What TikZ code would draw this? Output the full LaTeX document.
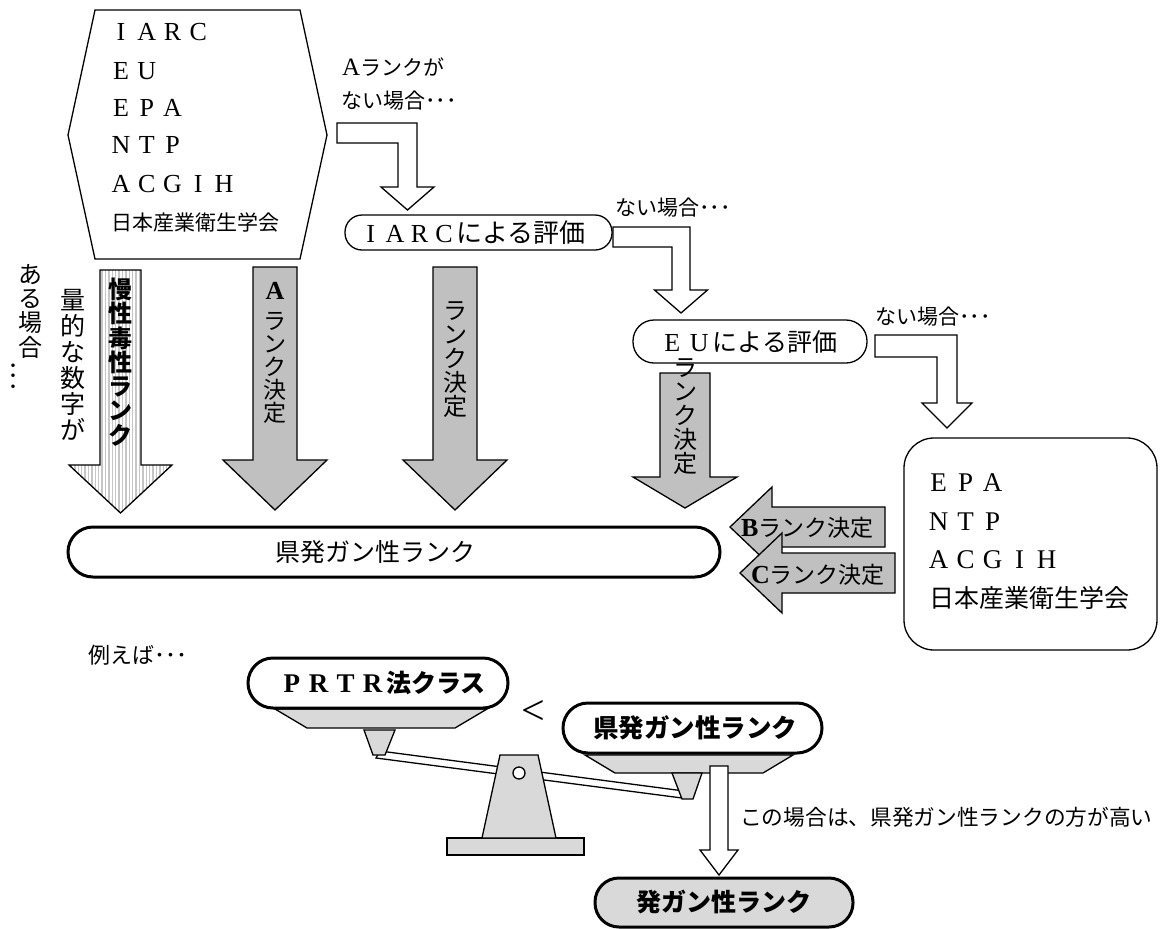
\documentclass[tikz,border=0pt]{standalone}
\usepackage{fontspec}
\setmainfont{Noto Sans CJK JP}
\newfontfamily\lat{Liberation Serif}
\usetikzlibrary{patterns.meta}
\definecolor{silver}{HTML}{C0C0C0}

% font size helper
\newcommand\fsz[2]{\fontsize{#1}{#2}\selectfont}
% full-width Latin letters: each letter centred in a fixed cell
\makeatletter
\newcommand\fwl[3]{{\lat\fsz{#2}{#2}\def\fwl@w{#1}\fwl@#3\@nil}}
\def\fwl@#1{\ifx#1\@nil\else\makebox[\fwl@w]{#1}\expandafter\fwl@\fi}
\makeatother

% block arrows: style, centre, start, head base, tip, shaft half width, head half width
\newcommand\blockdown[7][]{%
  \draw[#1] ({#2-#6},#3) -- ({#2+#6},#3) -- ({#2+#6},#4) -- ({#2+#7},#4) -- (#2,#5)
    -- ({#2-#7},#4) -- ({#2-#6},#4) -- cycle;}
\newcommand\blockleft[7][]{%
  \draw[#1] (#3,{#2-#6}) -- (#3,{#2+#6}) -- (#4,{#2+#6}) -- (#4,{#2+#7}) -- (#5,#2)
    -- (#4,{#2-#7}) -- (#4,{#2-#6}) -- cycle;}
% bent arrow: left end, bar top, bar bottom, shaft centre, shaft half, shaft end, head half, tip
\newcommand\bentarrow[8]{%
  \draw[whitearrow] (#1,#2) -- ({#4+#5},#2) -- ({#4+#5},#6) -- ({#4+#7},#6) -- (#4,#8)
    -- ({#4-#7},#6) -- ({#4-#5},#6) -- ({#4-#5},#3) -- (#1,#3) -- cycle;}

\tikzset{
  silverarrow/.style={draw=black, line width=1.3pt, fill=silver},
  whitearrow/.style={draw=black, line width=1.3pt, fill=white},
  stripearrow/.style={draw=black, line width=1.3pt, preaction={fill=white},
    pattern={Lines[angle=90,distance=3.4pt,line width=1.4pt]}, pattern color=gray!45},
  thinbox/.style={draw, line width=1.3pt, fill=white, inner sep=0pt},
  thickbox/.style={draw, line width=3pt, fill=white, inner sep=0pt},
  txt/.style={inner sep=0pt, anchor=west},
  ctxt/.style={inner sep=0pt},
  vtxt/.style={inner sep=0pt, align=center},
  tray/.style={draw, line width=1.3pt, fill=gray!30},
}

\begin{document}
\begin{tikzpicture}[x=1pt, y=-1pt, line join=miter]
\useasboundingbox (0,0) rectangle (1162,929);

% ---------- source list (hexagon) ----------
\draw[line width=1.3pt, fill=white] (95,10) -- (300,10) -- (327,135) -- (300,259)
  -- (95,259) -- (68,135) -- cycle;
\node[txt, font=\fsz{21}{21}] (h1) at (108,32)  {\fwl{25.75pt}{26}{IARC}};
\node[txt, font=\fsz{21}{21}] (h2) at (108,71)  {\fwl{25.75pt}{26}{EU}};
\node[txt, font=\fsz{21}{21}] (h3) at (108,108) {\fwl{25.75pt}{26}{EPA}};
\node[txt, font=\fsz{21}{21}] (h4) at (108,145) {\fwl{25.75pt}{26}{NTP}};
\node[txt, font=\fsz{21}{21}] (h5) at (108,184) {\fwl{25.75pt}{26}{ACGIH}};
\node[txt, font=\fsz{21}{21}] (h6) at (111,222) {日本産業衛生学会};

% ---------- step 1: no A rank ----------
\node[txt, font=\fsz{21}{21}] (q1a) at (342,67) {{\lat\fsz{25}{25}A}ランクが};
\node[txt, font=\fsz{21}{21}] (q1b) at (341,101) {ない場合･･･};
\bentarrow{337}{123}{143}{407.5}{9.5}{187}{26.5}{210}

\node[thinbox, rounded corners=17pt, minimum width=267pt, minimum height=35pt]
  (iarc) at (478.5,232.5) {};
\node[ctxt, font=\fsz{26}{26}] (iarct) at (472,233) {\fwl{24.5pt}{26}{IARC}による評価};

% ---------- step 2 ----------
\node[txt, font=\fsz{21}{21}] (q2) at (615,208) {ない場合･･･};
\bentarrow{613}{227}{247}{681}{9}{290}{26.5}{313}

\node[thinbox, rounded corners=21pt, minimum width=234pt, minimum height=43pt]
  (eu) at (750,341.5) {};
\node[ctxt, font=\fsz{25}{25}] (eut) at (748,342) {\fwl{27pt}{26}{EU}による評価};

% ---------- step 3 ----------
\node[txt, font=\fsz{21}{21}] (q3) at (875,317) {ない場合･･･};
\bentarrow{875}{335}{357}{947}{10}{403}{25}{428}

\node[thinbox, rounded corners=30pt, minimum width=253pt, minimum height=212pt]
  (other) at (1030.5,544) {};
\node[txt, font=\fsz{25}{25}] (o1) at (925,483) {\fwl{27pt}{27}{EPA}};
\node[txt, font=\fsz{25}{25}] (o2) at (925,522) {\fwl{27pt}{27}{NTP}};
\node[txt, font=\fsz{25}{25}] (o3) at (925,560) {\fwl{27pt}{27}{ACGIH}};
\node[txt, font=\fsz{25}{25}] (o4) at (929,598) {日本産業衛生学会};

% ---------- downward decision arrows ----------
\blockdown[stripearrow]{120.5}{270}{465}{513}{20.5}{51.5}
\blockdown[silverarrow]{275}{267}{460}{510}{22}{52}
\blockdown[silverarrow]{455}{267}{460}{510}{22}{52}
\blockdown[silverarrow]{685}{373}{477}{508}{25}{52}

% ---------- B / C decisions ----------
\blockleft[silverarrow]{527}{885}{772}{730}{20}{40}
\blockleft[silverarrow]{573}{895}{782}{740}{20}{40}
\node[txt, font=\fsz{23}{23}] (bt) at (741,528) {{\lat\bfseries\fsz{26}{26}B}ランク決定};
\node[txt, font=\fsz{23}{23}] (ct) at (751,575) {{\lat\bfseries\fsz{26}{26}C}ランク決定};

% ---------- prefecture rank bar ----------
\node[thickbox, rounded corners=25pt, minimum width=652pt, minimum height=50pt]
  (bar) at (394,552) {};
\node[ctxt, font=\fsz{25}{25}] (bart) at (375,552) {県発ガン性ランク};

% ---------- vertical labels ----------
\node[vtxt, font=\fsz{24}{24.3}] (l1) at (31,311) {あ\\る\\場\\合};
\node[ctxt, rotate=-90, font=\fsz{21}{21}] (l1d) at (10,376) {･･･};
\node[vtxt, font=\fsz{25}{26}] (l2) at (73,365) {量\\的\\な\\数\\字\\が};
\node[vtxt, font=\bfseries\fsz{24}{24.3}] (l3) at (120,362) {慢\\性\\毒\\性\\ラ\\ン\\ク};
\node[ctxt, font=\lat\bfseries\fsz{26}{26}] (l4a) at (275,291) {A};
\node[vtxt, font=\fsz{23}{23}] (l4) at (275,368) {ラ\\ン\\ク\\決\\定};
\node[vtxt, font=\fsz{24}{24}] (l5) at (455,360) {ラ\\ン\\ク\\決\\定};
\node[vtxt, font=\fsz{24}{24}] (l6) at (685,417) {ラ\\ン\\ク\\決\\定};

% ---------- example: balance ----------
\node[txt, font=\fsz{22}{22}] (ex) at (88,655) {例えば･･･};

% beam, stand and base
\draw[whitearrow] (380,751) -- (684,791) -- (682,798) -- (376,758) -- cycle;
\draw[tray] (447,838) rectangle (584,855);
\draw[tray] (500,755) -- (538,755) -- (556,838) -- (482,838) -- cycle;
\draw[line width=1.3pt, fill=white] (519,773) circle (6);

% left pan
\draw[tray] (275,709) -- (487,709) -- (455,728) -- (307,728) -- cycle;
\draw[tray] (364,730) -- (395,730) -- (385,755) -- (373,755) -- cycle;
\node[thickbox, rounded corners=25pt, minimum width=260pt, minimum height=50pt]
  (prtr) at (378,683) {};
\node[ctxt, font=\bfseries\fsz{25}{25}] (prtrt) at (382,683) {\fwl{27pt}{27}{PRTR}法クラス};

\node[ctxt, font=\fsz{42}{42}] (lt) at (533,712) {\lat <};

% right pan
\draw[tray] (585,755) -- (793,755) -- (763,773) -- (615,773) -- cycle;
\draw[tray] (672,773) -- (702,773) -- (693,799) -- (682,799) -- cycle;
\node[thickbox, rounded corners=25pt, minimum width=259pt, minimum height=50pt]
  (pref) at (692.5,728) {};
\node[ctxt, font=\bfseries\fsz{25.5}{25.5}] (preft) at (695,728) {県発ガン性ランク};

% result
\blockdown[whitearrow]{719}{766}{850}{875}{9}{19}
\node[txt, font=\fsz{21.7}{21.7}] (note) at (740,817) {この場合は、県発ガン性ランクの方が高い};
\node[thickbox, fill=gray!30, rounded corners=24pt, minimum width=258pt, minimum height=49pt]
  (final) at (724,902.5) {};
\node[ctxt, font=\bfseries\fsz{25}{25}] (finalt) at (724,902) {発ガン性ランク};

\end{tikzpicture}
\end{document}
